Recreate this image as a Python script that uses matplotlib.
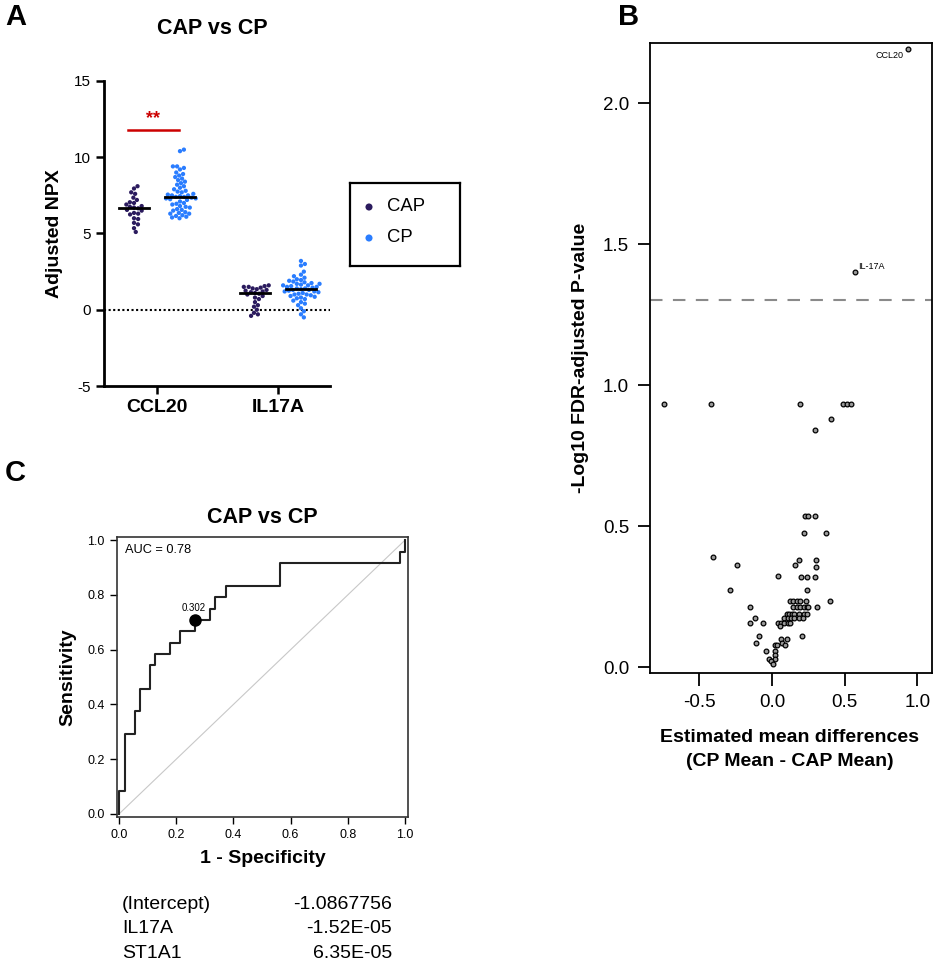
import numpy as np
import matplotlib
matplotlib.use("Agg")
import matplotlib.pyplot as plt

plt.rcParams['font.family'] = ['Liberation Sans', 'DejaVu Sans']

W, H = 936, 963
fig = plt.figure(figsize=(W / 100, H / 100), dpi=100)

# ---------------- data ----------------
categories = ["CCL20", "IL17A"]
groups = ["CAP", "CP"]
group_colors = {"CAP": "#2b1b5e", "CP": "#2a7dff"}

cap_ccl20 = [8.1, 7.95, 7.7, 7.6, 7.35, 7.2, 7.05, 7.0, 6.9, 6.8, 6.75, 6.7, 6.65,
             6.55, 6.5, 6.35, 6.3, 6.25, 6.0, 5.95, 5.7, 5.6, 5.35, 5.1]
cp_ccl20 = [10.5, 10.4, 9.4, 9.4, 9.3, 9.2, 9.0, 8.9, 8.8, 8.7, 8.6, 8.5, 8.4, 8.3,
            8.2, 8.1, 8.0, 7.9, 7.8, 7.75, 7.7, 7.6, 7.55, 7.5, 7.5, 7.45, 7.4, 7.4,
            7.35, 7.3, 7.3, 7.25, 7.2, 7.1, 7.0, 6.95, 6.9, 6.8, 6.75, 6.7, 6.6,
            6.55, 6.5, 6.4, 6.35, 6.3, 6.3, 6.2, 6.15, 6.1, 6.05, 6.0]
cap_il17a = [1.6, 1.55, 1.5, 1.5, 1.45, 1.4, 1.35, 1.3, 1.25, 1.2, 1.15, 1.1, 1.05,
             1.0, 0.9, 0.8, 0.7, 0.5, 0.3, 0.2, 0.0, -0.2, -0.3, -0.4]
cp_il17a = [3.2, 3.0, 2.9, 2.5, 2.3, 2.2, 2.1, 2.0, 1.95, 1.9, 1.85, 1.8, 1.75, 1.7,
            1.7, 1.65, 1.6, 1.6, 1.55, 1.5, 1.5, 1.45, 1.4, 1.4, 1.35, 1.3, 1.3,
            1.25, 1.2, 1.2, 1.15, 1.1, 1.05, 1.0, 1.0, 0.95, 0.9, 0.85, 0.8, 0.75,
            0.7, 0.6, 0.5, 0.4, 0.3, 0.1, -0.1, -0.3, -0.5]
a_yticks = [-5, 0, 5, 10, 15]

# volcano
volc_x = [-0.743, -0.418, 0.193, 0.491, 0.514, 0.541, 0.404, 0.294,
          0.227, 0.250, 0.297, 0.216, 0.370, -0.410, 0.182, 0.301,
          -0.241, 0.159, 0.301, 0.044, 0.197, 0.238, 0.298,
          -0.287, 0.238, 0.124, 0.147, 0.170, 0.193, 0.234, 0.395,
          -0.155, 0.147, 0.170, 0.193, 0.216, 0.238, 0.250, 0.308,
          0.101, 0.117, 0.136, 0.152, 0.188, 0.216, 0.238,
          -0.121, 0.085, 0.108, 0.131, 0.154, 0.188, 0.211,
          -0.155, -0.066, 0.039, 0.062, 0.085, 0.108, 0.124, 0.056,
          -0.091, 0.205, 0.063, 0.101, -0.109, 0.067, 0.017, 0.033, 0.090,
          -0.043, 0.021, 0.017, -0.020, 0.021, -0.006, 0.005]
volc_y = [0.933, 0.933, 0.933, 0.933, 0.933, 0.933, 0.879, 0.842,
          0.537, 0.537, 0.537, 0.475, 0.475, 0.389, 0.380, 0.380,
          0.361, 0.361, 0.354, 0.324, 0.320, 0.320, 0.320,
          0.273, 0.273, 0.236, 0.236, 0.236, 0.236, 0.236, 0.236,
          0.212, 0.212, 0.212, 0.212, 0.212, 0.212, 0.212, 0.212,
          0.187, 0.187, 0.187, 0.187, 0.187, 0.187, 0.187,
          0.173, 0.173, 0.173, 0.173, 0.173, 0.173, 0.173,
          0.156, 0.156, 0.156, 0.156, 0.156, 0.156, 0.156, 0.145,
          0.110, 0.110, 0.101, 0.101, 0.087, 0.087, 0.077, 0.077, 0.077,
          0.058, 0.058, 0.043, 0.028, 0.028, 0.023, 0.010]
hit_names = ["CCL20", "IL-17A"]
hit_x = [0.936, 0.571]
hit_y = [2.19, 1.40]
fdr_threshold = 1.301
b_xticks = [-0.5, 0.0, 0.5, 1.0]
b_yticks = [0.0, 0.5, 1.0, 1.5, 2.0]

# ROC
roc_fpr = [0.0, 0.0, 0.021, 0.021, 0.056, 0.056, 0.073, 0.073, 0.108, 0.108, 0.126,
           0.126, 0.178, 0.178, 0.213, 0.213, 0.266, 0.266, 0.318, 0.318, 0.336,
           0.336, 0.373, 0.373, 0.563, 0.563, 0.983, 0.983, 1.0, 1.0]
roc_tpr = [0.0, 0.083, 0.083, 0.292, 0.292, 0.375, 0.375, 0.458, 0.458, 0.542, 0.542,
           0.583, 0.583, 0.625, 0.625, 0.667, 0.667, 0.708, 0.708, 0.750, 0.750,
           0.792, 0.792, 0.833, 0.833, 0.917, 0.917, 0.958, 0.958, 1.0]
best_fpr, best_tpr, best_thr = 0.266, 0.708, "0.302"
auc_text = "AUC = 0.78"
c_ticks = [0.0, 0.2, 0.4, 0.6, 0.8, 1.0]
coef_names = ["(Intercept)", "IL17A", "ST1A1"]
coef_values = ["-1.0867756", "-1.52E-05", "6.35E-05"]


def frac_box(left, top, right, bottom):
    return [left / W, 1 - bottom / H, (right - left) / W, (bottom - top) / H]


def ftext(x, y, s, **kw):
    fig.text(x / W, 1 - y / H, s, **kw)


# ---------------- Panel A ----------------
axA = fig.add_axes(frac_box(104, 81, 330, 386))
axA.set_xlim(-0.438, 1.43)
axA.set_ylim(-5, 15)
for sp in ["top", "right"]:
    axA.spines[sp].set_visible(False)
for sp in ["left", "bottom"]:
    axA.spines[sp].set_linewidth(2)
axA.set_yticks(a_yticks)
axA.set_yticklabels([str(v) for v in a_yticks], fontsize=11)
axA.set_xticks(range(len(categories)))
axA.set_xticklabels(categories, fontsize=14, fontweight="bold")
axA.tick_params(axis="both", width=1.8, length=6, direction="out")
axA.set_ylabel("Adjusted NPX", fontsize=14, fontweight="bold", labelpad=8)
axA.axhline(0, color="black", ls=(0, (1, 1.2)), lw=1.5, zorder=1)

offset = 0.19
series = {("CCL20", "CAP"): cap_ccl20, ("CCL20", "CP"): cp_ccl20,
          ("IL17A", "CAP"): cap_il17a, ("IL17A", "CP"): cp_il17a}
d_px = 4.2


def swarm(ax, x0, vals, d):
    vals = np.asarray(vals, float)
    pts = ax.transData.transform(np.column_stack([np.full(len(vals), x0), vals]))
    xc = pts[0, 0]
    ys = pts[:, 1]
    order = np.argsort(np.abs(vals - np.median(vals)))
    placed_x, placed_y = [], []
    xs = np.zeros(len(vals))
    for i in order:
        y = ys[i]
        cands = [xc]
        for px, py in zip(placed_x, placed_y):
            dy = py - y
            if abs(dy) < d:
                dx = np.sqrt(d * d - dy * dy)
                cands += [px + dx + 1e-6, px - dx - 1e-6]
        cands = sorted(cands, key=lambda c: abs(c - xc))
        for c in cands:
            ok = True
            for px, py in zip(placed_x, placed_y):
                if (px - c) ** 2 + (py - y) ** 2 < d * d - 1e-6:
                    ok = False
                    break
            if ok:
                xs[i] = c
                break
        placed_x.append(xs[i])
        placed_y.append(y)
    inv = ax.transData.inverted().transform(np.column_stack([xs, ys]))
    return inv[:, 0], vals


for ci, cat in enumerate(categories):
    for gi, g in enumerate(groups):
        x0 = ci + (-offset if gi == 0 else offset)
        vals = series[(cat, g)]
        sx, sy = swarm(axA, x0, vals, d_px)
        axA.scatter(sx, sy, s=9.5, color=group_colors[g], edgecolors="none", zorder=3)
        med = np.median(vals)
        axA.plot([x0 - 0.125, x0 + 0.125], [med, med], color="black", lw=2, zorder=4)

axA.plot([-0.24, 0.18], [11.8, 11.8], color="#cc0000", lw=1.8)
axA.text(-0.03, 11.95, "**", color="#cc0000", fontsize=13, fontweight="bold",
         ha="center", va="bottom")

ftext(212, 28, "CAP vs CP", fontsize=15.5, fontweight="bold", ha="center", va="center")
ftext(5, 17, "A", fontsize=21, fontweight="bold", ha="left", va="center")

# legend box for A
axL = fig.add_axes(frac_box(350, 183, 460, 266))
axL.set_xlim(350, 460)
axL.set_ylim(266, 183)
axL.set_xticks([])
axL.set_yticks([])
for sp in axL.spines.values():
    sp.set_linewidth(1.6)
for g, yy in zip(groups, [207, 238]):
    axL.scatter([369], [yy], s=26, color=group_colors[g], edgecolors="none")
    axL.text(387, yy, g, fontsize=13.3, ha="left", va="center")

# ---------------- Panel B ----------------
axB = fig.add_axes(frac_box(650, 43, 932, 673))
axB.set_xlim(-0.84, 1.10)
axB.set_ylim(-0.021, 2.213)
for sp in axB.spines.values():
    sp.set_linewidth(1.3)
axB.set_xticks(b_xticks)
axB.set_xticklabels([f"{v:.1f}" for v in b_xticks], fontsize=13.5)
axB.set_yticks(b_yticks)
axB.set_yticklabels([f"{v:.1f}" for v in b_yticks], fontsize=13.5)
axB.tick_params(axis="both", width=1.3, length=9, direction="out", pad=6)
axB.axhline(fdr_threshold, color="#8a8a8a", lw=1.5, ls=(0, (6, 5)))
axB.plot(volc_x, volc_y, "o", ms=3.4, mfc="#9a9a9a", mec="black", mew=0.9, ls="none")
axB.plot(hit_x, hit_y, "o", ms=3.4, mfc="#9a9a9a", mec="black", mew=0.9, ls="none")
axB.annotate(hit_names[0], (hit_x[0], hit_y[0]), xytext=(-3, -4), textcoords="offset points",
             fontsize=6.5, ha="right", va="center")
axB.annotate(hit_names[1], (hit_x[1], hit_y[1]), xytext=(2, 4), textcoords="offset points",
             fontsize=6.5, ha="left", va="center")
axB.set_ylabel("-Log10 FDR-adjusted P-value", fontsize=14, fontweight="bold", labelpad=10)
ftext(790, 737, "Estimated mean differences", fontsize=14, fontweight="bold",
      ha="center", va="center")
ftext(790, 762, "(CP Mean - CAP Mean)", fontsize=14, fontweight="bold",
      ha="center", va="center")
ftext(618, 17, "B", fontsize=21, fontweight="bold", ha="left", va="center")

# ---------------- Panel C ----------------
axC = fig.add_axes(frac_box(117, 537, 408, 817))
axC.set_xlim(-0.007, 1.01)
axC.set_ylim(-0.011, 1.011)
for sp in axC.spines.values():
    sp.set_linewidth(1.2)
    sp.set_color("#333333")
axC.set_xticks(c_ticks)
axC.set_xticklabels([f"{v:.1f}" for v in c_ticks], fontsize=9)
axC.set_yticks(c_ticks)
axC.set_yticklabels([f"{v:.1f}" for v in c_ticks], fontsize=9)
axC.tick_params(axis="both", width=1.0, length=5, direction="out", pad=4)
axC.plot([0, 1], [0, 1], color="#c8c8c8", lw=0.8)
axC.plot(roc_fpr, roc_tpr, color="#222222", lw=1.5)
axC.plot([best_fpr], [best_tpr], "o", color="black", ms=8)
axC.text(best_fpr - 0.005, best_tpr + 0.025, best_thr, fontsize=7, ha="center", va="bottom")
axC.text(0.02, 0.985, auc_text, fontsize=9.2, ha="left", va="top")
axC.set_title("CAP vs CP", fontsize=15.5, fontweight="bold", pad=10)
axC.set_xlabel("1 - Specificity", fontsize=14, fontweight="bold", labelpad=6)
axC.set_ylabel("Sensitivity", fontsize=14, fontweight="bold", labelpad=8)
ftext(5, 473, "C", fontsize=21, fontweight="bold", ha="left", va="center")

for i, (n, v) in enumerate(zip(coef_names, coef_values)):
    yy = 904 + i * 24.5
    ftext(122, yy, n, fontsize=14, ha="left", va="center")
    ftext(392, yy, v, fontsize=14, ha="right", va="center")

fig.savefig("out.png", dpi=100)
